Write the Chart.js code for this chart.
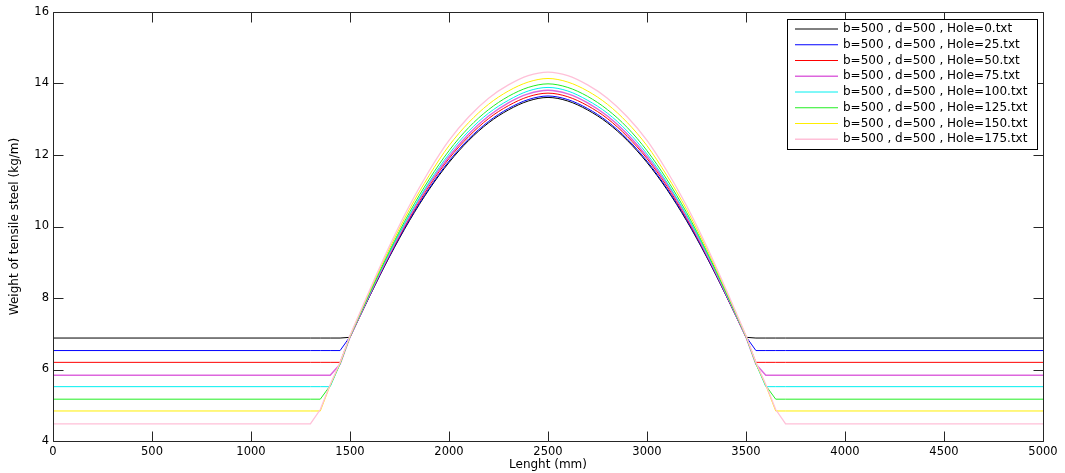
<!DOCTYPE html>
<html>
<head>
<meta charset="utf-8">
<title>Weight of tensile steel</title>
<script src="https://cdn.jsdelivr.net/npm/chart.js@4.4.0/dist/chart.umd.min.js"></script>
<style>
  html, body { margin: 0; padding: 0; background: #fff; }
  #wrap { width: 1065px; height: 473px; }
</style>
</head>
<body>
<div id="wrap"><canvas id="steelChart" width="1065" height="473"></canvas></div>
<script>
// beam length positions (mm)
const lengths = [0, 1300, 1350, 1400, 1450, 1500, 1600, 1700, 1800, 1900, 2000, 2100, 2200, 2300, 2400, 2500,
  2600, 2700, 2800, 2900, 3000, 3100, 3200, 3300, 3400, 3500, 3550, 3600, 3650, 3700, 5000];

const holes = [0, 25, 50, 75, 100, 125, 150, 175];

// steel weight (kg/m) for each hole size
const weightHole0 = [6.88, 6.88, 6.88, 6.88, 6.88, 6.90, 8.06, 9.16, 10.16, 11.04, 11.79, 12.41, 12.90, 13.26, 13.51, 13.61,
  13.51, 13.26, 12.90, 12.41, 11.79, 11.04, 10.16, 9.16, 8.06, 6.90, 6.88, 6.88, 6.88, 6.88, 6.88];
const weightHole25 = [6.53, 6.53, 6.53, 6.53, 6.53, 6.92, 8.07, 9.18, 10.19, 11.07, 11.83, 12.45, 12.94, 13.30, 13.55, 13.65,
  13.55, 13.30, 12.94, 12.45, 11.83, 11.07, 10.19, 9.18, 8.07, 6.92, 6.53, 6.53, 6.53, 6.53, 6.53];
const weightHole50 = [6.20, 6.20, 6.20, 6.20, 6.20, 6.91, 8.09, 9.21, 10.23, 11.13, 11.90, 12.52, 13.02, 13.38, 13.63, 13.73,
  13.63, 13.38, 13.02, 12.52, 11.90, 11.13, 10.23, 9.21, 8.09, 6.91, 6.20, 6.20, 6.20, 6.20, 6.20];
const weightHole75 = [5.84, 5.84, 5.84, 5.84, 6.15, 6.91, 8.11, 9.24, 10.28, 11.19, 11.96, 12.59, 13.09, 13.46, 13.71, 13.81,
  13.71, 13.46, 13.09, 12.59, 11.96, 11.19, 10.28, 9.24, 8.11, 6.91, 6.15, 5.84, 5.84, 5.84, 5.84];
const weightHole100 = [5.52, 5.52, 5.52, 5.52, 6.16, 6.92, 8.13, 9.28, 10.32, 11.24, 12.03, 12.67, 13.17, 13.53, 13.79, 13.89,
  13.79, 13.53, 13.17, 12.67, 12.03, 11.24, 10.32, 9.28, 8.13, 6.92, 6.16, 5.52, 5.52, 5.52, 5.52];
const weightHole125 = [5.17, 5.17, 5.17, 5.55, 6.17, 6.93, 8.15, 9.32, 10.39, 11.32, 12.12, 12.77, 13.27, 13.64, 13.89, 13.99,
  13.89, 13.64, 13.27, 12.77, 12.12, 11.32, 10.39, 9.32, 8.15, 6.93, 6.17, 5.55, 5.17, 5.17, 5.17];
const weightHole150 = [4.84, 4.84, 4.84, 5.56, 6.18, 6.94, 8.19, 9.39, 10.48, 11.43, 12.26, 12.91, 13.42, 13.79, 14.04, 14.14,
  14.04, 13.79, 13.42, 12.91, 12.26, 11.43, 10.48, 9.39, 8.19, 6.94, 6.18, 5.56, 4.84, 4.84, 4.84];
const weightHole175 = [4.48, 4.48, 4.88, 5.58, 6.20, 6.95, 8.23, 9.46, 10.58, 11.56, 12.41, 13.07, 13.59, 13.96, 14.22, 14.32,
  14.22, 13.96, 13.59, 13.07, 12.41, 11.56, 10.58, 9.46, 8.23, 6.95, 6.20, 5.58, 4.88, 4.48, 4.48];

const xTicks = [0, 500, 1000, 1500, 2000, 2500, 3000, 3500, 4000, 4500, 5000];
const yTicks = [4, 6, 8, 10, 12, 14, 16];

const series = [weightHole0, weightHole25, weightHole50, weightHole75,
  weightHole100, weightHole125, weightHole150, weightHole175];
const seriesLabels = holes.map(h => `b=500 , d=500 , Hole=${h}.txt`);
const lineColors = ['#000000', '#0000ff', '#ff0000', '#dd66dd', '#00f0f0', '#22ee22', '#ffee00', '#ffc0d8'];
const lineWidths = [1, 1, 1, 1.5, 1, 1, 1, 1.3];

Chart.defaults.font.family = '"DejaVu Sans", sans-serif';
Chart.defaults.color = '#000';

// straight flats at both ends, smooth curve over the middle span (1500..3500)
const parts = [[0, 5, 'default'], [5, 25, 'monotone'], [25, 30, 'default']];
const datasets = [];
series.forEach((values, i) => {
  parts.forEach(([from, to, mode]) => {
    datasets.push({
      label: seriesLabels[i],
      data: values.slice(from, to + 1).map((v, j) => ({ x: lengths[from + j], y: v })),
      borderColor: lineColors[i],
      borderWidth: lineWidths[i],
      pointRadius: 0,
      tension: 0,
      cubicInterpolationMode: mode,
      fill: false,
      order: series.length - i
    });
  });
});

// box around the axes with inward ticks, plus the legend box in the corner
const framePlugin = {
  id: 'frame',
  afterDraw(chart) {
    const { ctx, chartArea: a, scales: { x, y } } = chart;
    const L = Math.round(a.left) + 0.5, R = Math.round(a.right) + 0.5;
    const T = Math.round(a.top) + 0.5, B = Math.round(a.bottom) + 0.5;
    const tick = 10;
    ctx.save();
    ctx.strokeStyle = '#262626';
    ctx.lineWidth = 1;
    ctx.beginPath();
    ctx.rect(L, T, R - L, B - T);
    xTicks.forEach(v => {
      const px = Math.round(x.getPixelForValue(v)) + 0.5;
      ctx.moveTo(px, B); ctx.lineTo(px, B - tick);
      ctx.moveTo(px, T); ctx.lineTo(px, T + tick);
    });
    yTicks.forEach(v => {
      const py = Math.round(y.getPixelForValue(v)) + 0.5;
      ctx.moveTo(L, py); ctx.lineTo(L + tick, py);
      ctx.moveTo(R, py); ctx.lineTo(R - tick, py);
    });
    ctx.stroke();

    // legend
    const bx = 787.5, by = 19.5, bw = 250, bh = 130, row = 15.75;
    ctx.fillStyle = '#fff';
    ctx.fillRect(bx, by, bw, bh);
    ctx.strokeStyle = '#000';
    ctx.strokeRect(bx, by, bw, bh);
    ctx.font = '12px "DejaVu Sans", sans-serif';
    ctx.textBaseline = 'middle';
    seriesLabels.forEach((label, i) => {
      const ry = 29 + i * row;
      ctx.strokeStyle = lineColors[i];
      ctx.lineWidth = lineWidths[i];
      ctx.beginPath();
      ctx.moveTo(795, ry);
      ctx.lineTo(838, ry);
      ctx.stroke();
      ctx.fillStyle = '#000';
      ctx.fillText(label, 843, ry);
    });
    ctx.restore();
  }
};

new Chart(document.getElementById('steelChart'), {
  type: 'line',
  data: { datasets },
  options: {
    responsive: false,
    animation: false,
    devicePixelRatio: 1,
    layout: { padding: { left: 0, right: 22, top: 12, bottom: 0 } },
    scales: {
      x: {
        type: 'linear',
        min: 0,
        max: 5000,
        afterBuildTicks: s => { s.ticks = xTicks.map(v => ({ value: v })); },
        afterFit: s => { s.height = 32; },
        grid: { display: false, drawTicks: false },
        border: { display: false },
        ticks: { autoSkip: false, maxRotation: 0, padding: 4, font: { size: 11.5 }, color: '#000',
          callback: v => String(v) },
        title: { display: true, text: 'Lenght (mm)', font: { size: 12 }, padding: { top: 0, bottom: 1 } }
      },
      y: {
        min: 4,
        max: 16,
        afterBuildTicks: s => { s.ticks = yTicks.map(v => ({ value: v })); },
        afterFit: s => { s.width = 53; },
        grid: { display: false, drawTicks: false },
        border: { display: false },
        ticks: { padding: 4, font: { size: 11.5 }, color: '#000', callback: v => String(v) },
        title: { display: true, text: 'Weight of tensile steel (kg/m)', font: { size: 12 }, padding: { top: 8, bottom: 0 } }
      }
    },
    plugins: {
      legend: { display: false },
      tooltip: { enabled: false }
    }
  },
  plugins: [framePlugin]
});
</script>
</body>
</html>
